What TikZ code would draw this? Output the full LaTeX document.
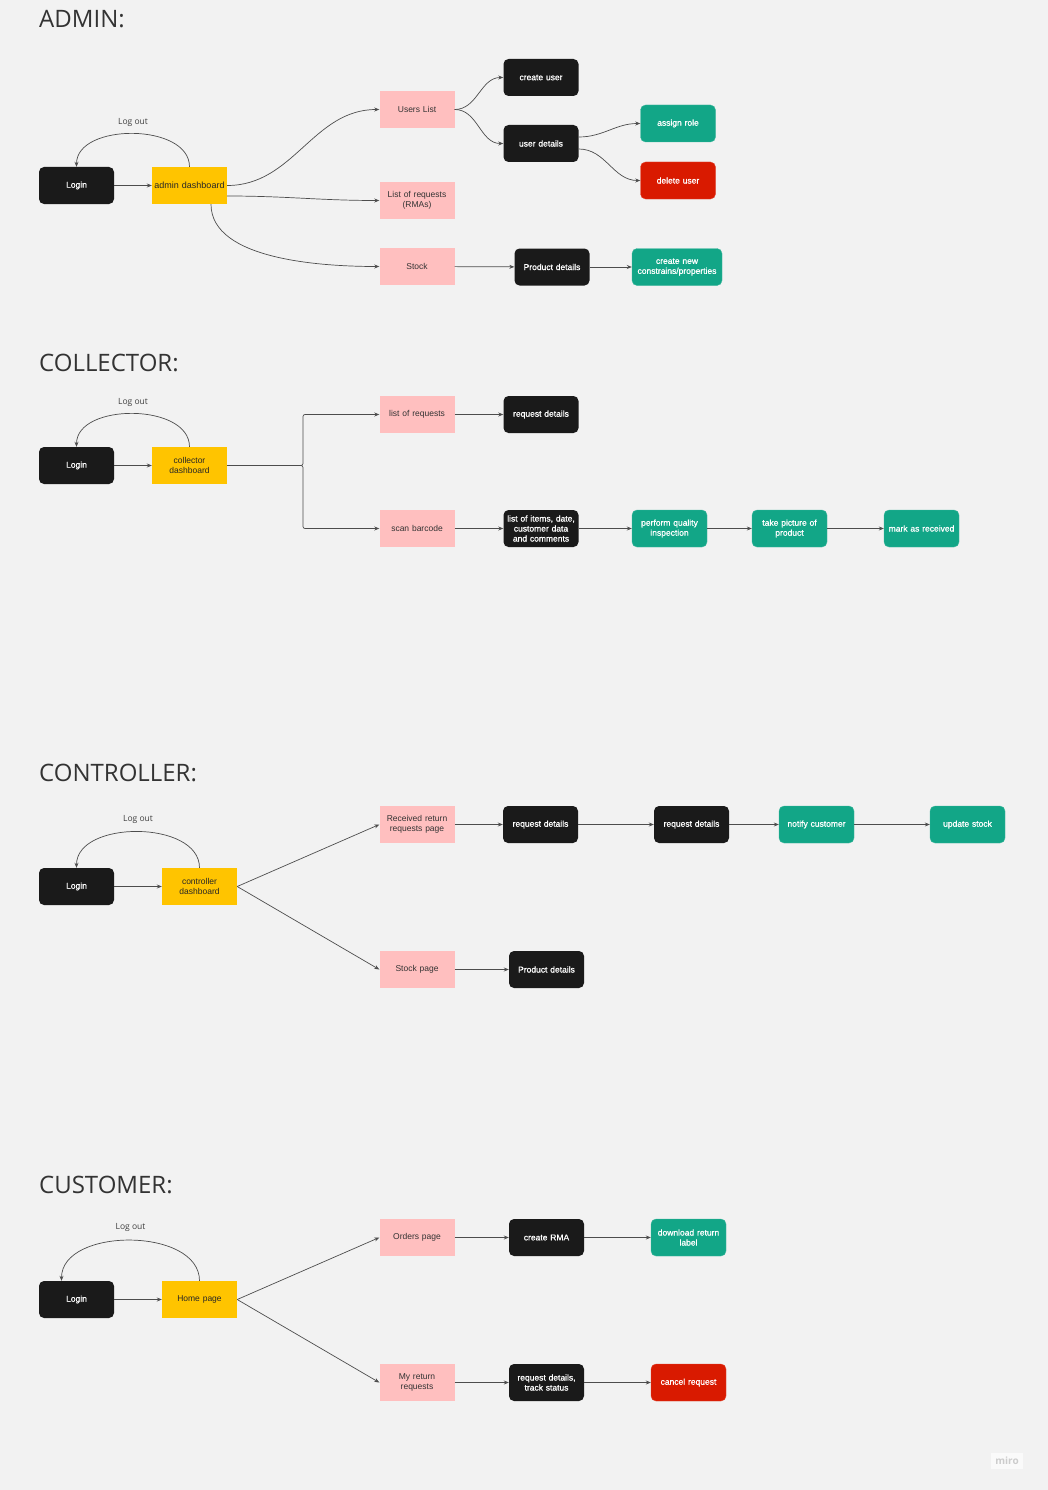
\documentclass[tikz,border=0pt]{standalone}
\usepackage{fontspec}
\setmainfont{Liberation Sans}
\newfontfamily\titlefont{Open Sans}
\newfontfamily\boxbold[FakeBold=1]{Liberation Sans}
\usetikzlibrary{arrows.meta,positioning}
\definecolor{bg}{HTML}{F2F2F2}
\definecolor{boxblack}{HTML}{1A1A1A}
\definecolor{boxyellow}{HTML}{FFC400}
\definecolor{boxpink}{HTML}{FFBFBF}
\definecolor{boxgreen}{HTML}{12A687}
\definecolor{boxred}{HTML}{D91A00}
\definecolor{edge}{HTML}{4D4D4D}
\tikzset{
base/.style={
  rectangle,
  minimum width=75pt,
  minimum height=37pt,
  inner sep=1pt,
  text width=73pt,
  align=center,
  font=\fontsize{8.5}{10}\selectfont
  },
dark/.style={base, fill=boxblack, text=white, rounded corners=5pt,
  font=\boxbold\fontsize{8.5}{10}\selectfont},
ok/.style={dark, fill=boxgreen, draw=boxgreen!80!white},
bad/.style={dark, fill=boxred, draw=boxred!80!white},
page/.style={base, fill=boxpink, text=black!80},
yel/.style={base, fill=boxyellow, text=black!85},
ttl/.style={anchor=base west, inner sep=0pt, text=black!80,
  font=\titlefont\fontsize{24}{27}\selectfont},
lbl/.style={inner sep=0pt, text=black!75,
  font=\titlefont\fontsize{8.5}{10}\selectfont},
arr/.style={draw=edge, line width=0.7pt, -{Stealth[length=5pt,width=4pt]}}
}

\begin{document}
\begin{tikzpicture}[x=1pt,y=-1pt]
\fill[bg] (0,0) rectangle (1048,1490);
\useasboundingbox (0,0) rectangle (1048,1490);

% admin
\begin{scope}
\node[ttl] (t1) at (39,28) {ADMIN:};
\node[dark] (login1) at (76.5,185.5) {Login};
\node[yel, font=\fontsize{9}{10}\selectfont] (dash1) at (189.5,185.5) {admin dashboard};
\node[page] (users) at (417,109.5) {Users List};
\node[page] (rmas) at (417,200.5) {List of requests\\(RMAs)};
\node[page] (stock1) at (417,266.5) {Stock};
\node[dark] (create) at (541,77.5) {create user};
\node[dark] (udet) at (541,143.5) {user details};
\node[ok] (role) at (678,123.5) {assign role};
\node[bad] (deluser) at (678,180.5) {delete user};
\node[dark] (prod1) at (552,267) {Product details};
\node[ok, minimum width=90pt, text width=88pt] (constr) at (677,267) {create new\\constrains/properties};

\draw[arr] (dash1.north) to[out=90,in=90] node[lbl, above=7pt] (out1) {Log out} (login1.north);
\draw[arr] (dash1.east) to[out=0,in=180] (users.west);
\draw[arr] ([yshift=-10.5pt]dash1.east) to[out=0,in=180] (rmas.west);
\draw[arr] ([xshift=21.5pt]dash1.south) to[out=270,in=180,looseness=0.8] (stock1.west);
\draw[arr] (users.east) to[out=0,in=180] (create.west);
\draw[arr] (users.east) to[out=0,in=180] (udet.west);
\draw[arr] ([yshift=6.5pt]udet.east) to[out=0,in=180] (role.west);
\draw[arr] ([yshift=-5.5pt]udet.east) to[out=0,in=180] (deluser.west);
\end{scope}

% collector
\begin{scope}
\node[ttl] (t2) at (39,371) {COLLECTOR:};
\node[dark] (login2) at (76.5,465.5) {Login};
\node[yel] (dash2) at (189.5,465.5) {collector\\dashboard};
\node[page] (reqs2) at (417,414.5) {list of requests};
\node[page] (scan) at (417,528.5) {scan barcode};
\node[dark] (rdet2) at (541,414.5) {request details};
\node[dark] (items) at (541,528.5) {list of items, date,\\customer data\\and comments};
\node[ok] (qual) at (669.5,528.5) {perform quality\\inspection};
\node[ok] (pic) at (789.5,528.5) {take picture of\\product};
\node[ok] (recv) at (921.5,528.5) {mark as received};
\coordinate (fork2) at (303,465.5);

\draw[arr] (dash2.north) to[out=90,in=90] node[lbl, above=7pt] (out2) {Log out} (login2.north);
\draw[arr, rounded corners=2pt] (dash2.east) -- (fork2) |- (reqs2.west);
\draw[arr, rounded corners=2pt] (dash2.east) -- (fork2) |- (scan.west);
\end{scope}

% controller
\begin{scope}
\node[ttl] (t3) at (39,781) {CONTROLLER:};
\node[dark] (login3) at (76.5,886.5) {Login};
\node[yel] (dash3) at (199.5,886.5) {controller\\dashboard};
\node[page] (recret) at (417,824.5) {Received return\\requests page};
\node[page] (stock3) at (417,969.5) {Stock page};
\node[dark] (rdet3a) at (540.5,824.5) {request details};
\node[dark] (rdet3b) at (691.5,824.5) {request details};
\node[ok] (notify) at (816.5,824.5) {notify customer};
\node[ok] (upd) at (967.5,824.5) {update stock};
\node[dark] (prod3) at (546.5,969.5) {Product details};

\draw[arr] (dash3.north) to[out=90,in=90] node[lbl, above=8pt] (out3) {Log out} (login3.north);
\draw[arr] (dash3.east) -- (recret.west);
\draw[arr] (dash3.east) -- (stock3.west);
\end{scope}

% customer
\begin{scope}
\node[ttl] (t4) at (39,1193) {CUSTOMER:};
\node[dark] (login4) at (76.5,1299.5) {Login};
\node[yel] (home) at (199.5,1299.5) {Home page};
\node[page] (orders) at (417,1237.5) {Orders page};
\node[page] (myret) at (417,1382.5) {My return\\requests};
\node[dark] (rma) at (546.5,1237.5) {create RMA};
\node[dark] (track) at (546.5,1382.5) {request details,\\track status};
\node[ok] (retlabel) at (688.5,1237.5) {download return\\label};
\node[bad] (cancel) at (688.5,1382.5) {cancel request};

\draw[arr] (home.north) to[out=90,in=90] node[lbl, above=9pt] (out4) {Log out} ([xshift=-15pt]login4.north);
\draw[arr] (home.east) -- (orders.west);
\draw[arr] (home.east) -- (myret.west);
\end{scope}

% straight links
\foreach \a/\b in {login1/dash1, stock1/prod1, prod1/constr,
  login2/dash2, reqs2/rdet2, scan/items, items/qual, qual/pic, pic/recv,
  login3/dash3, recret/rdet3a, rdet3a/rdet3b, rdet3b/notify, notify/upd, stock3/prod3,
  login4/home, orders/rma, rma/retlabel, myret/track, track/cancel}
  \draw[arr] (\a) -- (\b);

\node[fill=white!60!bg, text=black!20, inner sep=4pt,
  font=\titlefont\bfseries\fontsize{10}{12}\selectfont] (miro) at (1007,1461) {miro};
\end{tikzpicture}
\end{document}
